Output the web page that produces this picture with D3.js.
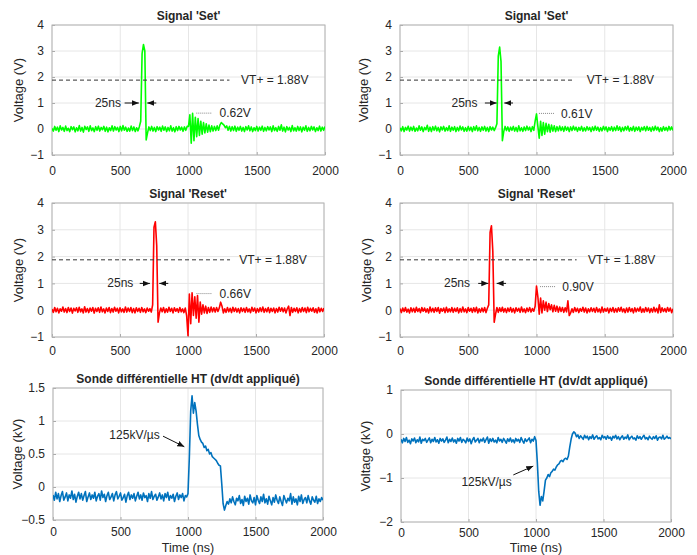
<!DOCTYPE html>
<html>
<head>
<meta charset="utf-8">
<script src="https://cdn.jsdelivr.net/npm/d3@7"></script>
<style>
  body { margin: 0; background: #fff; }
  svg text { font-family: "Liberation Sans", Arial, sans-serif; fill: #262626; }
</style>
</head>
<body>
<div id="viz"></div>
<script>
// sampling grid of the scope traces (ns), one sample every 10 ns
const timeNs = d3.range(0, 2001, 10);
const xTicks = [0, 500, 1000, 1500, 2000];

// Signal 'Set' (left)  - V
const setLeft = [
  .02,-.08,.1,-.05,.07,-.1,.12,-.04,.06,-.09,.11,-.06,.03,-.1,.09,-.03,.08,-.11,.05,-.07,
  .13,-.08,.06,-.12,.1,-.02,.08,-.09,.12,-.06,.04,-.1,.09,-.05,.11,-.08,.06,-.03,.1,-.09,
  .07,-.11,.05,-.06,.12,-.08,.09,-.04,.06,-.1,.1,-.07,.13,-.05,.07,-.09,.04,-.08,.11,-.06,
  .08,-.1,.05,-.07,.09,.3,2.9,3.25,3.0,-.42,-.15,.08,-.06,.1,-.08,.06,-.1,.09,-.04,.07,
  -.09,.11,-.05,.08,-.1,.06,-.07,.12,-.08,.05,-.11,.09,-.06,.1,-.04,.07,-.09,.08,-.05,.1,
  .1,.55,-.55,.6,-.45,.45,-.3,.4,-.25,.3,-.2,.25,-.15,.2,-.12,.15,-.1,.12,-.08,.1,
  -.06,.12,-.05,.15,.25,.2,.15,.05,.12,-.05,.1,-.08,.09,-.06,.11,-.09,.07,-.05,.1,-.08,
  .06,-.1,.09,-.04,.12,-.07,.08,-.1,.05,-.06,.1,-.08,.07,-.05,.11,-.09,.06,-.07,.09,-.04,
  .08,-.1,.12,-.06,.05,-.09,.1,-.05,.16,-.08,.07,-.11,.09,-.04,.06,-.1,.13,-.07,.05,-.08,
  .1,-.06,.08,-.11,.07,-.05,.12,-.09,.06,-.07,.1,-.04,.08,-.1,.05,-.06,.11,-.08,.07,-.05,.1
];
// Signal 'Set' (right) - V
const setRight = [
  .05,-.07,.09,-.1,.06,-.04,.11,-.08,.07,-.06,.1,-.09,.04,-.07,.12,-.05,.08,-.1,.06,-.03,
  .14,-.09,.07,-.1,.09,-.05,.11,-.07,.06,-.11,.08,-.04,.1,-.08,.05,-.06,.12,-.09,.07,-.05,
  .09,-.1,.06,-.07,.11,-.04,.08,-.09,.05,-.08,.1,-.06,.07,-.1,.09,-.05,.12,-.07,.06,-.09,
  .08,-.05,.1,-.08,.06,-.1,.09,-.04,.07,-.06,.05,.2,2.8,3.15,2.6,-.45,-.1,.1,-.06,.08,
  -.09,.07,-.05,.1,-.08,.06,-.1,.12,-.07,.05,-.09,.08,-.06,.11,-.04,.07,-.1,.09,-.05,.3,
  .58,.1,-.35,.3,-.25,.25,-.2,.22,-.1,.18,-.12,.15,-.08,.12,-.1,.09,-.07,.11,-.06,.08,
  -.09,.1,-.05,.07,-.1,.08,-.06,.11,-.04,.07,-.09,.06,-.05,.1,-.08,.05,-.07,.09,-.04,.06,
  -.1,.08,-.06,.11,-.05,.07,-.09,.05,-.07,.1,-.04,.08,-.1,.06,-.05,.09,-.08,.07,-.06,.12,
  -.05,.08,-.1,.06,-.07,.09,-.04,.11,-.08,.05,-.06,.1,-.09,.07,-.05,.08,-.1,.06,-.04,.09,
  -.07,.1,-.05,.06,-.09,.08,-.06,.11,-.04,.07,-.1,.05,-.08,.09,-.05,.06,-.07,.1,-.04,.08,-.06
];
// Signal 'Reset' (left) - V
const resetLeft = [
  .04,-.08,.1,-.06,.07,-.1,.05,-.04,.12,-.07,.06,-.09,.1,-.05,.08,-.11,.07,-.03,.09,-.08,
  .11,-.06,.05,-.1,.13,-.07,.06,-.09,.08,-.04,.1,-.11,.07,-.05,.09,-.08,.12,-.06,.05,-.1,
  .08,-.05,.1,-.09,.06,-.07,.11,-.04,.07,-.1,.09,-.06,.05,-.08,.12,-.07,.08,-.05,.1,-.09,
  .06,-.1,.09,-.05,.07,-.08,.1,-.06,.05,-.09,.08,-.04,.06,-.07,.2,3.1,3.3,2.4,-.45,-.1,
  .08,-.06,.1,-.09,.05,-.07,.11,-.05,.07,-.1,.09,-.04,.06,-.08,.1,-.06,.05,-.09,.08,-.2,
  -.95,.6,-.5,.65,-.2,.5,-.3,.55,-.45,.3,-.15,.2,-.1,.15,-.12,.1,-.08,.12,-.06,.09,
  -.07,.1,-.05,.08,.3,.15,-.1,.05,-.08,.1,-.06,.07,-.09,.11,-.05,.08,-.07,.06,-.1,.09,
  -.05,.07,-.08,.1,-.06,.05,-.09,.11,-.04,.08,-.1,.06,-.07,.09,-.05,.12,-.08,.06,-.06,.1,
  -.09,.07,-.05,.08,-.1,.06,-.07,.11,-.04,.09,-.06,.08,-.1,.05,.15,-.2,.1,-.08,.07,-.05,
  .09,-.1,.06,-.07,.1,-.05,.08,-.09,.11,-.06,.07,-.04,.09,-.08,.05,-.1,.1,-.06,.07,-.05,.08
];
// Signal 'Reset' (right) - V
const resetRight = [
  .06,-.09,.08,-.05,.1,-.07,.04,-.1,.09,-.06,.07,-.08,.11,-.05,.06,-.09,.1,-.04,.08,-.07,
  .05,-.1,.12,-.06,.07,-.08,.09,-.05,.1,-.11,.06,-.04,.08,-.09,.11,-.07,.05,-.06,.1,-.08,
  .07,-.05,.09,-.1,.06,-.07,.12,-.06,.05,-.09,.1,-.04,.07,-.08,.09,-.06,.11,-.1,.05,-.07,
  .08,-.06,.1,-.09,.07,.2,2.9,3.15,2.2,-.45,-.15,.1,-.08,.09,-.05,.11,-.07,.06,-.09,.08,
  -.05,.1,-.07,.06,-.1,.09,-.04,.07,-.08,.12,-.06,.05,-.09,.08,-.05,.1,-.07,.06,-.04,.15,
  .9,.5,-.15,.45,-.1,.35,0,.3,-.05,.25,.02,.2,-.06,.18,-.04,.15,-.07,.12,-.05,.1,
  -.08,.09,-.06,.35,-.2,-.1,.05,-.08,.1,-.05,.07,-.09,.06,-.04,.11,-.07,.08,-.1,.05,-.06,
  .09,-.05,.07,-.08,.1,-.06,.05,-.09,.12,-.07,.06,-.04,.08,-.1,.07,-.05,.1,-.08,.06,-.07,
  .09,-.04,.11,-.06,.05,-.09,.08,-.07,.1,-.05,.06,-.1,.09,-.06,.07,-.04,.12,-.08,.05,-.07,
  .1,-.05,.08,-.09,.06,-.07,.11,-.06,.07,-.1,.2,-.08,.09,-.05,.06,-.07,.1,-.04,.08,-.09,.05
];
// Sonde différentielle HT (left) - kV
const probeLeft = [
  -.12,-.2,-.08,-.18,-.1,-.22,-.13,-.07,-.2,-.15,-.09,-.21,-.12,-.17,-.06,-.19,-.11,-.23,-.14,-.08,
  -.18,-.1,-.2,-.13,-.07,-.22,-.15,-.09,-.19,-.12,-.17,-.08,-.21,-.14,-.1,-.2,-.06,-.16,-.11,-.22,
  -.13,-.08,-.19,-.15,-.1,-.21,-.12,-.07,-.18,-.14,-.09,-.2,-.16,-.11,-.23,-.13,-.08,-.19,-.12,-.17,
  -.1,-.21,-.14,-.08,-.18,-.12,-.2,-.09,-.16,-.13,-.22,-.1,-.17,-.07,-.19,-.14,-.11,-.2,-.15,-.09,
  -.18,-.12,-.21,-.1,-.16,-.08,-.2,-.13,-.17,-.11,-.22,-.14,-.09,-.19,-.12,-.16,-.1,-.21,-.13,-.15,
  -.1,.45,1.15,1.38,1.12,1.28,1.15,.95,.78,.72,.68,.66,.6,.62,.55,.57,.5,.52,.46,.44,
  .42,.4,.36,.33,.32,.05,-.25,-.35,-.28,-.22,-.26,-.18,-.24,-.15,-.22,-.27,-.17,-.21,-.13,-.25,
  -.19,-.28,-.14,-.22,-.17,-.26,-.12,-.21,-.24,-.16,-.27,-.13,-.2,-.25,-.15,-.22,-.11,-.24,-.18,-.26,
  -.14,-.21,-.27,-.16,-.23,-.12,-.2,-.25,-.15,-.22,-.28,-.13,-.19,-.24,-.17,-.21,-.1,-.26,-.15,-.23,
  -.18,-.27,-.14,-.22,-.12,-.25,-.19,-.16,-.24,-.13,-.21,-.26,-.15,-.2,-.23,-.14,-.25,-.18,-.22,-.16,-.2
];
// Sonde différentielle HT (right) - kV
const probeRight = [
  -.12,-.2,-.1,-.17,-.08,-.19,-.14,-.22,-.11,-.16,-.09,-.2,-.13,-.18,-.07,-.21,-.12,-.15,-.1,-.19,
  -.14,-.09,-.2,-.12,-.17,-.08,-.18,-.13,-.21,-.1,-.16,-.11,-.19,-.14,-.07,-.2,-.12,-.17,-.09,-.18,
  -.13,-.21,-.1,-.16,-.08,-.19,-.12,-.15,-.2,-.09,-.17,-.11,-.22,-.13,-.08,-.18,-.14,-.1,-.2,-.12,
  -.16,-.09,-.19,-.13,-.07,-.21,-.11,-.17,-.1,-.18,-.14,-.2,-.08,-.16,-.12,-.19,-.1,-.15,-.21,-.11,
  -.17,-.09,-.18,-.13,-.2,-.1,-.16,-.12,-.19,-.08,-.15,-.21,-.11,-.17,-.13,-.09,-.2,-.12,-.16,-.06,
  -.15,-.65,-1.3,-1.62,-1.42,-1.52,-1.3,-1.05,-1.0,-.92,-.97,-.88,-.85,-.8,-.82,-.75,-.7,-.68,-.62,-.6,
  -.63,-.57,-.55,-.58,-.5,-.3,-.12,0,.05,.02,-.06,-.02,-.1,-.04,-.08,-.12,-.03,-.09,-.05,-.13,
  -.06,-.1,-.02,-.12,-.07,-.04,-.11,-.08,-.13,-.03,-.09,-.06,-.12,-.04,-.1,-.07,-.14,-.05,-.09,-.03,
  -.11,-.06,-.13,-.08,-.04,-.12,-.07,-.1,-.02,-.13,-.08,-.05,-.11,-.09,-.14,-.04,-.1,-.06,-.12,-.07,
  -.03,-.11,-.08,-.13,-.05,-.09,-.12,-.06,-.1,-.04,-.14,-.08,-.07,-.11,-.03,-.12,-.09,-.05,-.1,-.08,-.11
];

const vTicks = [-1, 0, 1, 2, 3, 4];
const kvTicksLeft = [-0.5, 0, 0.5, 1, 1.5];
const kvTicksRight = [-2, -1, 0, 1];

const panels = [
  {x:52, y:25, w:273, h:130, dom:[-1,4], ticks:vTicks, color:'#00ff00', data:setLeft, pad:11,
   title:"Signal 'Set'", ylab:'Voltage (V)', ylx:18,
   sig:{vtEnd:1300, vtX:1385, arL:[532,636], arR:[764,698], txt25:505, pk:[1057,1167], pkY:0.61, pkTxt:'0.62V', pkX:1227}},
  {x:400, y:25, w:273, h:130, dom:[-1,4], ticks:vTicks, color:'#00ff00', data:setRight, pad:11,
   title:"Signal 'Set'", ylab:'Voltage (V)', ylx:363,
   sig:{vtEnd:1282, vtX:1368, arL:[622,708], arR:[828,764], txt25:568, pk:[1018,1135], pkY:0.6, pkTxt:'0.61V', pkX:1180}},
  {x:52, y:203, w:272, h:134, dom:[-1,4], ticks:vTicks, color:'#ff0000', data:resetLeft, pad:9,
   title:"Signal 'Reset'", ylab:'Voltage (V)', ylx:18,
   sig:{vtEnd:1309, vtX:1377, arL:[645,720], arR:[855,789], txt25:598, pk:[1062,1172], pkY:0.62, pkTxt:'0.66V', pkX:1232}},
  {x:400, y:203, w:273, h:134, dom:[-1,4], ticks:vTicks, color:'#ff0000', data:resetRight, pad:9,
   title:"Signal 'Reset'", ylab:'Voltage (V)', ylx:366,
   sig:{vtEnd:1294, vtX:1377, arL:[573,647], arR:[777,708], txt25:513, pk:[1026,1141], pkY:0.88, pkTxt:'0.90V', pkX:1189}},
  {x:53, y:388, w:270, h:132, dom:[-0.5,1.5], ticks:kvTicksLeft, color:'#0072bd', data:probeLeft, pad:7,
   title:'Sonde différentielle HT (dv/dt appliqué)', ylab:'Voltage (kV)', ylx:17, xlab:'Time (ns)',
   slope:{from:[815,0.77], to:[973,0.61], txt:[790,0.79]}},
  {x:401, y:390, w:270, h:132, dom:[-2,1], ticks:kvTicksRight, color:'#0072bd', data:probeRight, pad:6,
   title:'Sonde différentielle HT (dv/dt appliqué)', ylab:'Voltage (kV)', ylx:365, xlab:'Time (ns)',
   slope:{from:[832,-0.93], to:[980,-0.73], txt:[820,-1.09]}}
];

const svg = d3.select('#viz').append('svg')
  .attr('width', 697).attr('height', 555);

const defs = svg.append('defs');
defs.append('marker').attr('id', 'ah')
  .attr('viewBox', '0 0 10 10').attr('refX', 10).attr('refY', 5)
  .attr('markerWidth', 7).attr('markerHeight', 7).attr('markerUnits', 'userSpaceOnUse')
  .attr('orient', 'auto')
  .append('path').attr('d', 'M0,1 L10,5 L0,9 Z').attr('fill', '#111');

panels.forEach(function(p, k) {
  const x = d3.scaleLinear().domain([0, 2000]).range([0, p.w]);
  const y = d3.scaleLinear().domain(p.dom).range([p.h, 0]);

  const g = svg.append('g').attr('transform', 'translate(' + p.x + ',' + p.y + ')');

  defs.append('clipPath').attr('id', 'clip' + k)
    .append('rect').attr('width', p.w).attr('height', p.h);

  // grid
  g.append('g').selectAll('line').data(xTicks).enter().append('line')
    .attr('x1', d => x(d)).attr('x2', d => x(d)).attr('y1', 0).attr('y2', p.h)
    .attr('stroke', '#e6e6e6').attr('stroke-width', 1);
  g.append('g').selectAll('line').data(p.ticks).enter().append('line')
    .attr('y1', d => y(d)).attr('y2', d => y(d)).attr('x1', 0).attr('x2', p.w)
    .attr('stroke', '#e6e6e6').attr('stroke-width', 1);

  // axes (MATLAB style: ticks inside, light box)
  const xAxis = g.append('g').attr('transform', 'translate(0,' + p.h + ')')
    .call(d3.axisBottom(x).tickValues(xTicks).tickSize(-3).tickPadding(p.pad).tickFormat(d3.format('d')));
  const yAxis = g.append('g')
    .call(d3.axisLeft(y).tickValues(p.ticks).tickSize(-3).tickPadding(8).tickFormat(d => d3.format('')(d)));
  [xAxis, yAxis].forEach(a => {
    a.select('.domain').remove();
    a.selectAll('line').attr('stroke', '#aaa');
    a.selectAll('text').style('font-size', '12px').attr('fill', '#262626');
  });
  g.append('rect').attr('width', p.w).attr('height', p.h)
    .attr('fill', 'none').attr('stroke', '#b4b4b4').attr('stroke-width', 1);

  // trace
  const line = d3.line().x((d, i) => x(timeNs[i])).y(d => y(d));
  g.append('path').datum(p.data)
    .attr('clip-path', 'url(#clip' + k + ')')
    .attr('d', line).attr('fill', 'none')
    .attr('stroke', p.color).attr('stroke-width', 1.6).attr('stroke-linejoin', 'round');

  // titles and labels
  g.append('text').attr('x', p.w / 2).attr('y', -5).attr('text-anchor', 'middle')
    .style('font-size', '12px').style('font-weight', 'bold').attr('fill', '#1a1a1a').text(p.title);
  svg.append('text')
    .attr('transform', 'translate(' + p.ylx + ',' + (p.y + p.h / 2) + ') rotate(-90)')
    .attr('text-anchor', 'middle').attr('dy', '0.35em')
    .style('font-size', '13px').text(p.ylab);
  if (p.xlab) {
    g.append('text').attr('x', p.w / 2).attr('y', 552 - p.y).attr('text-anchor', 'middle')
      .style('font-size', '12.5px').text(p.xlab);
  }

  if (p.sig) {
    const s = p.sig;
    g.append('line').attr('x1', x(0)).attr('x2', x(s.vtEnd)).attr('y1', y(1.88)).attr('y2', y(1.88))
      .attr('stroke', '#333').attr('stroke-width', 1).attr('stroke-dasharray', '4,3');
    g.append('text').attr('x', x(s.vtX)).attr('y', y(1.88)).attr('dy', '0.35em')
      .style('font-size', '12px').text('VT+ = 1.88V');
    [s.arL, s.arR].forEach(a => {
      g.append('line').attr('x1', x(a[0])).attr('x2', x(a[1])).attr('y1', y(1)).attr('y2', y(1))
        .attr('stroke', '#111').attr('stroke-width', 1).attr('marker-end', 'url(#ah)');
    });
    g.append('text').attr('x', x(s.txt25)).attr('y', y(1.02)).attr('dy', '0.35em')
      .attr('text-anchor', 'end').style('font-size', '12px').text('25ns');
    g.append('line').attr('x1', x(s.pk[0])).attr('x2', x(s.pk[1])).attr('y1', y(s.pkY)).attr('y2', y(s.pkY))
      .attr('stroke', '#888').attr('stroke-width', 1).attr('stroke-dasharray', '1,1');
    g.append('text').attr('x', x(s.pkX)).attr('y', y(s.pkY)).attr('dy', '0.35em')
      .style('font-size', '12px').text(s.pkTxt);
  }
  if (p.slope) {
    const s = p.slope;
    g.append('line').attr('x1', x(s.from[0])).attr('y1', y(s.from[1]))
      .attr('x2', x(s.to[0])).attr('y2', y(s.to[1]))
      .attr('stroke', '#111').attr('stroke-width', 1).attr('marker-end', 'url(#ah)');
    g.append('text').attr('x', x(s.txt[0])).attr('y', y(s.txt[1])).attr('dy', '0.35em')
      .attr('text-anchor', 'end').style('font-size', '12px').text('125kV/µs');
  }
});
</script>
</body>
</html>
